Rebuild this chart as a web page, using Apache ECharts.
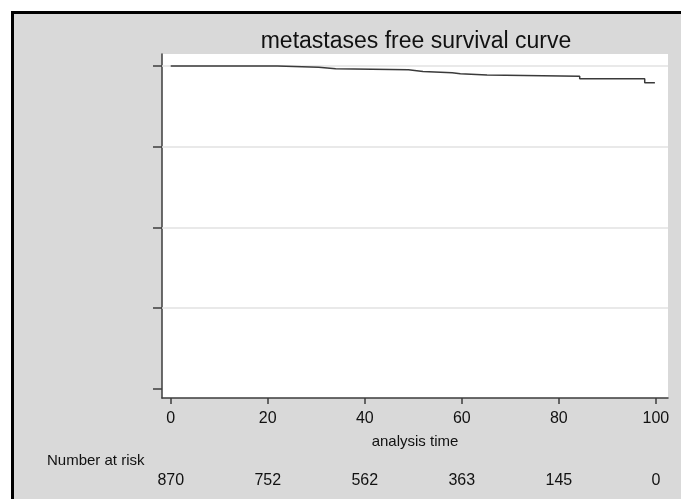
<!DOCTYPE html>
<html lang="en">
<head>
    <meta charset="UTF-8">
    <script src="https://cdn.jsdelivr.net/npm/echarts@6.0.0/dist/echarts.min.js"></script>
    <title>metastases free survival curve</title>
    <style>
        html, body { margin: 0; padding: 0; background: #fff; }
        #frame {
            position: absolute; left: 11px; top: 11px; width: 670px; height: 488px;
            border-left: 3px solid #000; border-top: 3px solid #000;
            background: #d9d9d9; box-sizing: border-box;
        }
        #main { position: absolute; left: 0; top: 0; width: 681px; height: 499px; }
    </style>
</head>
<body>
<div id="frame"></div>
<div id="main"></div>
<script type="text/javascript">
    // Kaplan-Meier steps
    var times = [0, 22, 30.5, 34, 49, 52, 58, 59.7, 65.2, 84.3, 97.7, 99.8];
    var survival = [1.0, 0.996, 0.991, 0.988, 0.983, 0.979, 0.976, 0.972, 0.968, 0.960, 0.948, 0.948];

    // number at risk table
    var riskTimes = [0, 20, 40, 60, 80, 100];
    var riskCounts = [870, 752, 562, 363, 145, 0];

    var yTicks = [0, 0.25, 0.5, 0.75, 1];
    var yGrid = [0.25, 0.5, 0.75, 1];

    var font = "'Liberation Sans', Arial, sans-serif";
    var txt = '#111';
    var axisCol = '#3c3c3c';

    var curve = times.map(function (t, i) { return [t, survival[i]]; });

    var myChart = echarts.init(document.getElementById("main"));

    myChart.setOption({
        animation: false,
        backgroundColor: 'transparent',
        title: [{
            text: 'metastases free survival curve',
            left: 411,
            top: 25,
            textAlign: 'center',
            textStyle: { fontFamily: font, fontSize: 23, fontWeight: 'normal', color: txt }
        }, {
            text: 'Number at risk',
            left: 47,
            top: 453,
            padding: 0,
            textStyle: { fontFamily: font, fontSize: 15, fontWeight: 'normal', color: txt }
        }],
        grid: {
            left: 162, right: 13, top: 54, bottom: 101,
            show: true, backgroundColor: '#fff', borderWidth: 0
        },
        xAxis: [{
            type: 'value',
            min: -1.8, max: 102.5,
            name: 'analysis time',
            nameLocation: 'middle',
            nameGap: 36,
            nameTextStyle: { fontFamily: font, fontSize: 15, color: txt },
            axisLine: { show: true, onZero: false, lineStyle: { color: axisCol, width: 1.5 } },
            axisTick: { show: true, length: 6, customValues: riskTimes, lineStyle: { color: axisCol, width: 1.5 } },
            axisLabel: { customValues: riskTimes, margin: 13, fontFamily: font, fontSize: 16, color: txt },
            splitLine: { show: false }
        }, {
            type: 'value',
            min: -1.8, max: 102.5,
            position: 'bottom',
            offset: 63,
            axisLine: { show: false },
            axisTick: { show: false },
            axisLabel: {
                customValues: riskTimes, margin: 12,
                fontFamily: font, fontSize: 16, color: txt,
                formatter: function (v) { return riskCounts[riskTimes.indexOf(v)]; }
            },
            splitLine: { show: false }
        }],
        yAxis: {
            type: 'value',
            min: -0.028, max: 1.037,
            axisLine: { show: true, onZero: false, lineStyle: { color: axisCol, width: 1.5 } },
            axisTick: { show: true, length: 9, customValues: yTicks, lineStyle: { color: axisCol, width: 1.5 } },
            axisLabel: { show: false, customValues: yTicks },
            splitLine: { show: false }
        },
        series: [{
            // light gridlines (none at 0)
            type: 'line',
            data: [],
            z: 1,
            silent: true,
            markLine: {
                z: 1,
                silent: true,
                symbol: 'none',
                label: { show: false },
                lineStyle: { color: '#e2e2e2', width: 1.5, type: 'solid' },
                data: yGrid.map(function (v) { return { yAxis: v }; })
            }
        }, {
            type: 'line',
            data: curve,
            step: 'end',
            showSymbol: false,
            z: 10,
            lineStyle: { color: '#3a3a3a', width: 1.5 }
        }]
    });
</script>
</body>
</html>
